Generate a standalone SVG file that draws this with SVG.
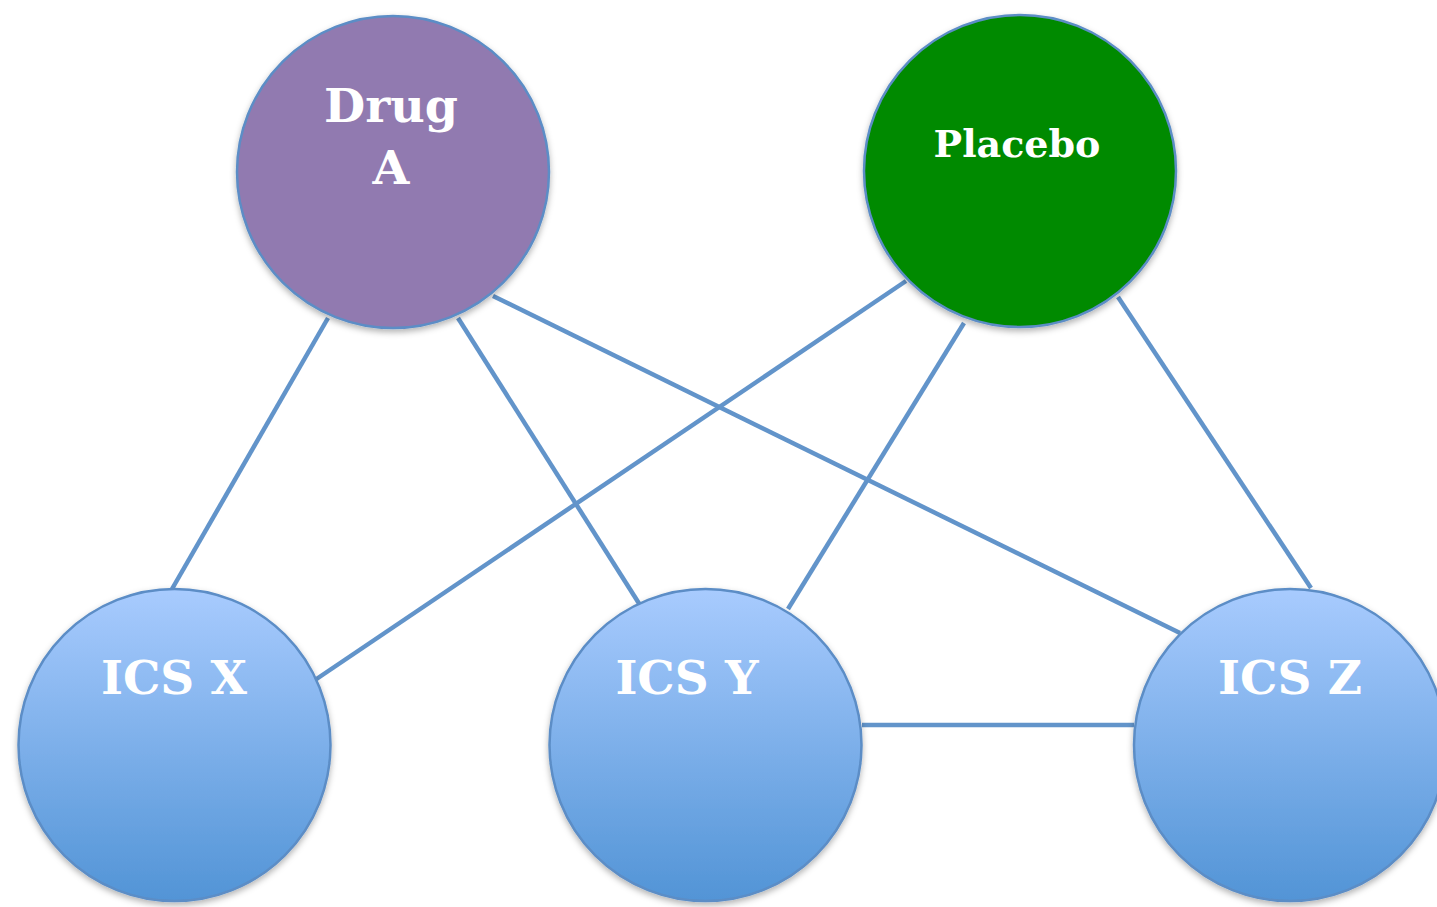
<svg xmlns="http://www.w3.org/2000/svg" width="1437" height="907" viewBox="0 0 1437 907">
  <style>
    .edge { stroke: #6294ca; stroke-width: 4.5; fill: none; }
    .node { stroke: #5b8dc6; stroke-width: 2.5; filter: url(#shadow); }
    .label { font-family: "DejaVu Serif", "Liberation Serif", serif; font-weight: bold; fill: #ffffff; text-anchor: middle; }
  </style>
  <defs>
    <linearGradient id="ics" x1="0" y1="0" x2="0" y2="1">
      <stop offset="0" stop-color="#a8cbfe"/>
      <stop offset="1" stop-color="#5294d6"/>
    </linearGradient>
    <filter id="shadow" x="-10%" y="-10%" width="120%" height="125%">
      <feDropShadow dx="0" dy="3" stdDeviation="3" flood-color="#000" flood-opacity="0.3"/>
    </filter>
  </defs>

  <g id="connectors">
    <line class="edge" x1="328" y1="318" x2="172" y2="589"/>
    <line class="edge" x1="458" y1="318" x2="640" y2="605"/>
    <line class="edge" x1="493" y1="296" x2="1180" y2="633"/>
    <line class="edge" x1="906" y1="281" x2="315" y2="680"/>
    <line class="edge" x1="964" y1="323" x2="788" y2="609"/>
    <line class="edge" x1="1118" y1="297" x2="1311" y2="588"/>
    <line class="edge" x1="862" y1="725" x2="1134" y2="725"/>
  </g>

  <g id="drug-a">
    <circle class="node" cx="393" cy="172" r="156" fill="#917ab0"/>
    <text class="label" x="391" y="122" font-size="47.5">Drug</text>
    <text class="label" x="391" y="184" font-size="47.5">A</text>
  </g>

  <g id="placebo">
    <circle class="node" cx="1020" cy="171" r="156" fill="#008a00"/>
    <text class="label" x="1017" y="157" font-size="38">Placebo</text>
  </g>

  <g id="ics-x">
    <circle class="node" cx="174.5" cy="745" r="156" fill="url(#ics)"/>
    <text class="label" x="174" y="694" font-size="47">ICS X</text>
  </g>

  <g id="ics-y">
    <circle class="node" cx="705.5" cy="745" r="156" fill="url(#ics)"/>
    <text class="label" x="687" y="694" font-size="47">ICS Y</text>
  </g>

  <g id="ics-z">
    <circle class="node" cx="1290" cy="745" r="156" fill="url(#ics)"/>
    <text class="label" x="1290" y="694" font-size="47">ICS Z</text>
  </g>
</svg>
